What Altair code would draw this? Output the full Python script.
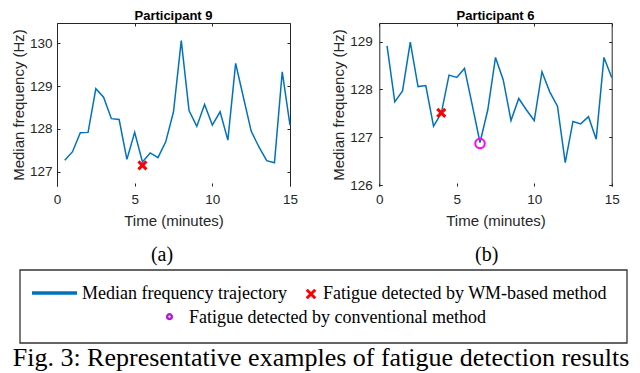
import altair as alt
import pandas as pd

# ---------------- data ----------------
time_min = [0.5, 1.0, 1.5, 2.0, 2.5, 3.0, 3.5, 4.0, 4.5, 5.0,
            5.5, 6.0, 6.5, 7.0, 7.5, 8.0, 8.5, 9.0, 9.5, 10.0,
            10.5, 11.0, 11.5, 12.0, 12.5, 13.0, 13.5, 14.0, 14.5, 15.0]
p9_freq = [127.27, 127.47, 127.91, 127.92, 128.94, 128.74, 128.24, 128.22, 127.29, 127.92,
           127.23, 127.44, 127.33, 127.70, 128.40, 130.06, 128.43, 128.06, 128.57, 128.09,
           128.40, 127.74, 129.53, 128.74, 127.95, 127.58, 127.26, 127.21, 129.33, 128.09]
p6_freq = [128.91, 127.74, 127.97, 128.99, 128.06, 128.08, 127.23, 127.50, 128.30, 128.25,
           128.44, 127.67, 126.89, 127.57, 128.67, 128.20, 127.35, 127.81, 127.57, 127.35,
           128.37, 127.95, 127.65, 126.47, 127.33, 127.28, 127.43, 126.96, 128.67, 128.25]

p9_wm_t, p9_wm_f = [5.5], [127.15]
p6_wm_t, p6_wm_f = [4.0], [127.51]
p6_conv_t, p6_conv_f = [6.5], [126.87]

x_ticks = [0, 5, 10, 15]
x_domain = [0, 15]
p9_yticks = [127, 128, 129, 130]
p9_ydomain = [126.67, 130.47]
p6_yticks = [126, 127, 128, 129]
p6_ydomain = [125.98, 129.39]

panel_titles = ["Participant 9", "Participant 6"]
sub_captions = ["(a)", "(b)"]
x_title = "Time (minutes)"
y_title = "Median frequency (Hz)"
legend_labels = ["Median frequency trajectory",
                 "Fatigue detected by WM-based method",
                 "Fatigue detected by conventional method"]
caption = "Fig. 3: Representative examples of fatigue detection results"

# ---------------- layout (chart pixels) ----------------
W, H = 624, 365
LINE_C = "#0072BD"
AX_C = "#262626"
X_PATH = "M-1,-1L1,1M-1,1L1,-1"
SANS = "Liberation Sans"
SERIF = "Liberation Serif"

one = pd.DataFrame({"d": [0]})


def panel(t, f, yticks, ydom, x0, x1, y0, y1, lab_pad, ttl_pad, markers):
    df = pd.DataFrame({"t": t, "f": f})
    xs = alt.Scale(domain=x_domain, range=[x0, x1], nice=False, zero=False)
    ys = alt.Scale(domain=ydom, range=[y0, y1], nice=False, zero=False)
    layers = []
    layers.append(
        alt.Chart(df).mark_line(color=LINE_C, strokeWidth=1.5).encode(
            x=alt.X("t:Q", scale=xs, axis=alt.Axis(
                orient="bottom", offset=y0 - H, values=x_ticks, domain=False,
                ticks=False, tickSize=0, labelPadding=6, labelFlush=False,
                title=x_title, titlePadding=8)),
            y=alt.Y("f:Q", scale=ys, axis=alt.Axis(
                orient="left", offset=-x0, values=yticks, domain=True,
                ticks=False, tickSize=0, labelPadding=lab_pad, labelFlush=False,
                title=y_title, titlePadding=ttl_pad)),
        )
    )
    # box: top and right edges with inward ticks
    layers.append(
        alt.Chart(df).mark_point(opacity=0).encode(
            x=alt.X("t:Q", scale=xs, axis=alt.Axis(
                orient="bottom", offset=y1 - H, values=x_ticks, domain=True,
                ticks=True, tickSize=3, labels=False, title=None)),
            y=alt.Y("f:Q", scale=ys, axis=alt.Axis(
                orient="left", offset=-x1, values=yticks, domain=True,
                ticks=True, tickSize=3, labels=False, title=None)),
        )
    )
    # inward ticks on bottom and left edges
    layers.append(
        alt.Chart(df).mark_point(opacity=0).encode(
            x=alt.X("t:Q", scale=xs, axis=alt.Axis(
                orient="top", offset=-y0, values=x_ticks, domain=False,
                ticks=True, tickSize=3, labels=False, title=None)),
            y=alt.Y("f:Q", scale=ys, axis=alt.Axis(
                orient="right", offset=x0 - W, values=yticks, domain=False,
                ticks=True, tickSize=3, labels=False, title=None)),
        )
    )
    for (mt, mf, kind) in markers:
        mdf = pd.DataFrame({"t": mt, "f": mf})
        if kind == "x":
            mk = alt.Chart(mdf).mark_point(shape=X_PATH, filled=False, color="#FF0000",
                                           strokeWidth=3, size=64, opacity=1)
        else:
            mk = alt.Chart(mdf).mark_point(shape="circle", filled=False, color="#FF00FF",
                                           strokeWidth=2, size=90, opacity=1)
        layers.append(mk.encode(
            x=alt.X("t:Q", scale=xs, axis=None),
            y=alt.Y("f:Q", scale=ys, axis=None)))
    return layers


layers = []
layers += panel(time_min, p9_freq, p9_yticks, p9_ydomain, 49, 282, 178, 15, 5, 3,
                [(p9_wm_t, p9_wm_f, "x")])
layers += panel(time_min, p6_freq, p6_yticks, p6_ydomain, 371.3, 603.7, 178, 15, 7, 3,
                [(p6_wm_t, p6_wm_f, "x"), (p6_conv_t, p6_conv_f, "o")])


def text(s, x, y, font, size, align="center", weight="normal", color="#000000"):
    return alt.Chart(one).mark_text(text=s, font=font, fontSize=size, align=align,
                                    baseline="alphabetic", fontWeight=weight,
                                    color=color).encode(x=alt.value(x), y=alt.value(y))


# panel titles
layers.append(text(panel_titles[0], 165.5, 12, SANS, 13, weight="bold"))
layers.append(text(panel_titles[1], 487.5, 12, SANS, 13, weight="bold"))
# sub captions
layers.append(text(sub_captions[0], 154, 253, SERIF, 20))
layers.append(text(sub_captions[1], 478.7, 253, SERIF, 20))

# legend box
layers.append(alt.Chart(one).mark_rect(fillOpacity=0, stroke="#333333", strokeWidth=1.3).encode(
    x=alt.value(12), x2=alt.value(619), y=alt.value(262), y2=alt.value(335)))
layers.append(alt.Chart(one).mark_rule(color=LINE_C, strokeWidth=3.3).encode(
    x=alt.value(24), x2=alt.value(69), y=alt.value(285)))
layers.append(alt.Chart(one).mark_point(shape=X_PATH, filled=False, color="#FF0000",
                                        strokeWidth=3, size=72, opacity=1).encode(
    x=alt.value(303), y=alt.value(286)))
layers.append(alt.Chart(one).mark_point(shape="circle", filled=False, color="#B31BD1",
                                        strokeWidth=2.5, size=22, opacity=1).encode(
    x=alt.value(161.5), y=alt.value(308.7)))
layers.append(text(legend_labels[0], 74, 291, SERIF, 18, align="left"))
layers.append(text(legend_labels[1], 315, 291, SERIF, 18, align="left"))
layers.append(text(legend_labels[2], 181, 314.7, SERIF, 18, align="left"))

# figure caption
layers.append(text(caption, 313, 358, SERIF, 26))

chart = alt.layer(*layers).resolve_scale(
    x="independent", y="independent"
).resolve_axis(
    x="independent", y="independent"
).properties(
    width=W, height=H, padding=0,
    autosize=alt.AutoSizeParams(type="none"),
).configure_view(
    stroke="transparent"
).configure_axis(
    grid=False,
    labelFont=SANS, titleFont=SANS,
    labelFontSize=13.5, titleFontSize=15,
    labelColor=AX_C, titleColor=AX_C,
    domainColor=AX_C, tickColor=AX_C,
    titleFontWeight="normal",
)

chart.save("out.html", embed_options={"renderer": "svg", "actions": False})
